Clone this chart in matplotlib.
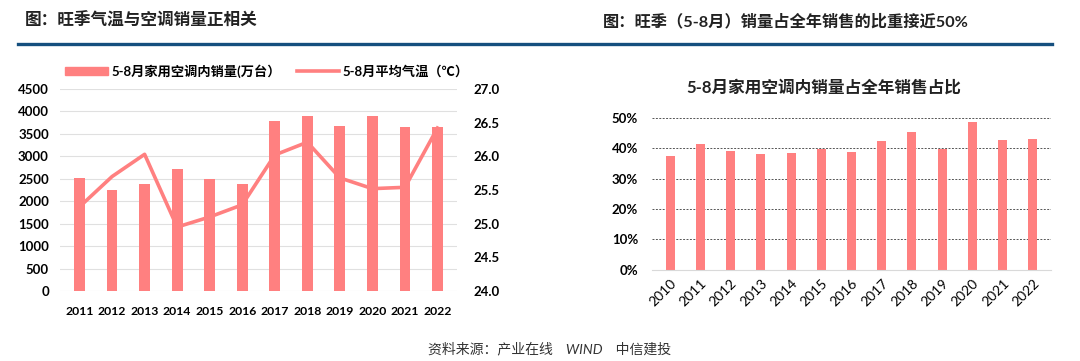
import matplotlib
matplotlib.use("Agg")
import matplotlib.pyplot as plt
from matplotlib.lines import Line2D
from matplotlib.patches import Patch
from matplotlib.ticker import PercentFormatter

plt.rcParams['font.family'] = ['Lato', 'Noto Sans CJK SC', 'DejaVu Sans']

# left chart data
years_l = ['2011', '2012', '2013', '2014', '2015', '2016',
           '2017', '2018', '2019', '2020', '2021', '2022']
sales = [2510, 2250, 2375, 2715, 2495, 2375, 3790, 3905, 3670, 3905, 3650, 3650]
temp = [25.25, 25.70, 26.03, 24.95, 25.10, 25.28, 26.02, 26.21, 25.68, 25.52, 25.54, 26.42]

# right chart data
years_r = ['2010', '2011', '2012', '2013', '2014', '2015', '2016',
           '2017', '2018', '2019', '2020', '2021', '2022']
share = [0.373, 0.412, 0.391, 0.379, 0.385, 0.398, 0.388,
         0.423, 0.454, 0.397, 0.487, 0.427, 0.430]

pink = '#FF8080'
navy = '#154F7E'

fig = plt.figure(figsize=(10.8, 3.61), dpi=100)

# header titles and rule
fig.text(25/1080, 1-21/361, '图：旺季气温与空调销量正相关', fontsize=12,
         fontweight='bold', va='center', ha='left', color='#222222')
fig.text(603/1080, 1-22/361, '图：旺季（5-8月）销量占全年销售的比重接近50%', fontsize=11.7,
         fontweight='bold', va='center', ha='left', color='#222222')
fig.add_artist(Line2D([18/1080, 1052/1080], [1-43.5/361, 1-43.5/361],
                      color=navy, lw=2.4, transform=fig.transFigure))

# left chart
ax = fig.add_axes([60/1080, 1-291/361, 397/1080, 202/361])
x = range(len(years_l))
ax.bar(x, sales, width=0.33, color=pink, zorder=2)
ax.set_ylim(0, 4500)
ax.set_yticks(range(0, 4501, 500))
ax.set_xlim(-0.6, len(years_l) - 0.4)
ax.set_xticks(list(x))
ax.set_xticklabels(years_l)
ax.grid(axis='y', color='#E0E0E0', lw=0.8, zorder=0)
for s in ax.spines.values():
    s.set_visible(False)
ax.tick_params(axis='both', length=0, labelsize=9.5)
ax.tick_params(axis='y', pad=8)
ax.tick_params(axis='x', pad=11, labelsize=8.8)
for lab in ax.get_xticklabels() + ax.get_yticklabels():
    lab.set_fontweight('bold')

ax2 = ax.twinx()
ax2.plot(list(x), temp, color=pink, lw=2.6, zorder=3)
ax2.set_ylim(24.0, 27.0)
ax2.set_yticks([24.0, 24.5, 25.0, 25.5, 26.0, 26.5, 27.0])
ax2.set_yticklabels([f'{v:.1f}' for v in ax2.get_yticks()])
for s in ax2.spines.values():
    s.set_visible(False)
ax2.tick_params(axis='y', length=0, labelsize=9.5, pad=12)
for lab in ax2.get_yticklabels():
    lab.set_fontweight('bold')

handles = [Patch(color=pink), Line2D([0], [0], color=pink, lw=2.6)]
labels = ['5-8月家用空调内销量(万台）', '5-8月平均气温（℃）']
ax.legend(handles, labels, loc='lower left', bbox_to_anchor=(0.0, 1.03), ncol=2,
          frameon=False, prop={'weight': 'bold', 'size': 9.5}, handlelength=3.2,
          handleheight=0.6, handletextpad=0.3, columnspacing=1.2, borderaxespad=0)

# right chart
bx = fig.add_axes([652/1080, 1-269.7/361, 399/1080, 152/361])
xr = range(len(years_r))
bx.bar(xr, share, width=0.3, color=pink, zorder=2)
bx.set_ylim(0, 0.5)
bx.set_yticks([0, 0.1, 0.2, 0.3, 0.4, 0.5])
bx.yaxis.set_major_formatter(PercentFormatter(1.0, decimals=0))
bx.set_xlim(-0.6, len(years_r) - 0.4)
bx.set_xticks(list(xr))
bx.set_xticklabels(years_r, rotation=45, ha='right', rotation_mode='anchor')
bx.grid(axis='y', color='#555555', lw=0.7, ls=(0, (2, 1.5)), zorder=0)
for s in bx.spines.values():
    s.set_visible(False)
bx.spines['bottom'].set_visible(True)
bx.spines['bottom'].set_color('#D9D9D9')
bx.tick_params(axis='both', length=0, labelsize=9.5)
bx.tick_params(axis='y', pad=10)
bx.tick_params(axis='x', pad=5, labelsize=10)
for lab in bx.get_yticklabels():
    lab.set_fontweight('bold')
fig.text(824/1080, 1-88/361, '5-8月家用空调内销量占全年销售占比', fontsize=12,
         fontweight='bold', ha='center', va='center', color='#222222')

# footer
fig.text(550/1080, 1-348/361, '资料来源：产业在线    WIND    中信建投', fontsize=10,
         style='italic', ha='center', va='center', color='#333333')

fig.savefig('out.png', dpi=100)
